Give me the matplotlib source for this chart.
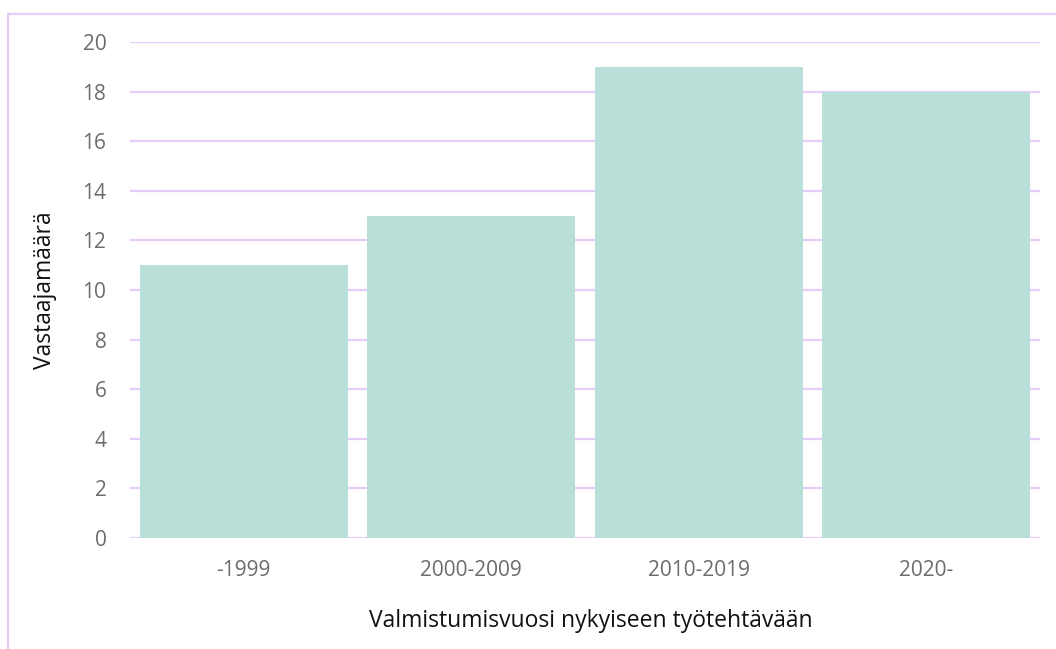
import matplotlib.pyplot as plt
from matplotlib.patches import Rectangle

kategoriat = ["-1999", "2000-2009", "2010-2019", "2020-"]
vastaajat = [11, 13, 19, 18]
y_ticks = [0, 2, 4, 6, 8, 10, 12, 14, 16, 18, 20]

plt.rcParams['font.family'] = ['Open Sans', 'DejaVu Sans']

fig = plt.figure(figsize=(10.56, 6.49), dpi=100)
ax = fig.add_axes([130/1056, 1-538/649, 910/1056, 496/649])

ax.bar(range(len(kategoriat)), vastaajat, width=0.915, color="#B8E0D8", zorder=2)
ax.set_xlim(-0.5, len(kategoriat)-0.5)
ax.set_ylim(0, 20)
ax.set_yticks(y_ticks)
ax.set_xticks(range(len(kategoriat)))
ax.set_xticklabels(kategoriat)
ax.grid(axis='y', color="#E6CCF8", linewidth=1.6, zorder=0)
for s in ax.spines.values():
    s.set_visible(False)
ax.tick_params(length=0, colors="#706B6B", labelsize=15)
ax.tick_params(axis='y', pad=17)
ax.tick_params(axis='x', pad=16)

# akselien otsikot
ax.set_ylabel("Vastaajamäärä", fontsize=16.5, color="#111111")
ax.yaxis.set_label_coords((45-130)/910, 0.5)
ax.yaxis.label.set_va('center')
ax.set_xlabel("Valmistumisvuosi nykyiseen työtehtävään", fontsize=16.5, color="#111111")
ax.xaxis.set_label_coords((591-130)/910, (538-621)/496)
ax.xaxis.label.set_va('center')

# kehys
fig.patches.append(Rectangle((8/1056, -0.1), 1.2, 1-14/649+0.1, transform=fig.transFigure,
                             fill=False, edgecolor="#E6CCF8", linewidth=1.6))

fig.savefig("out.png", dpi=100)
